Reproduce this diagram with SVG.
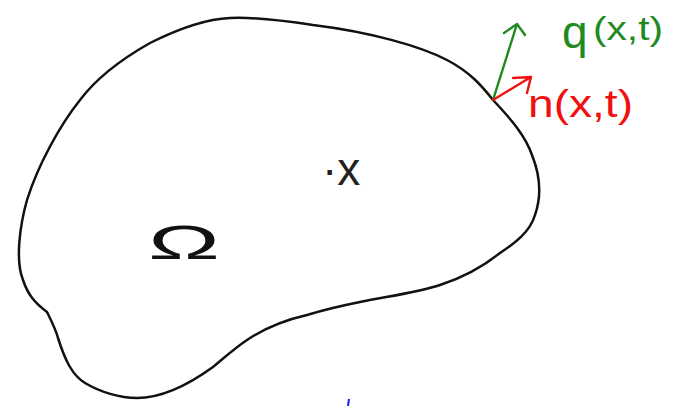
<svg xmlns="http://www.w3.org/2000/svg" width="682" height="406" viewBox="0 0 682 406">
<style>
.outline{fill:none;stroke:#111;stroke-width:2.5;stroke-linecap:round;stroke-linejoin:round}
.arr{fill:none;stroke-width:2.4;stroke-linecap:round;stroke-linejoin:round}
.g{stroke:#1f8a1f}
.r{stroke:#f01010}
text{font-family:"Liberation Sans",Arial,sans-serif}
</style>
<rect width="682" height="406" fill="#fff"/>
<g id="domain">
<path class="outline" d="M493,100 C482,86 470,72 447,60 C420,46 370,32 313,25 C280,20 250,17 230,18 C205,19 180,28 150,43 C120,60 95,80 80,100 C60,125 38,165 27,200 C20,225 15,260 23,280 C28,295 35,303 47,312 C52,322 56,330 58,338 C65,360 72,375 85,383 C100,392 120,398 137,398 C165,398 195,380 213,367 C225,357 235,348 247,340 C265,328 285,320 307,315 C330,308 345,305 360,302 C390,296 420,292 440,285 C465,277 485,265 500,253 C515,243 530,232 535,215 C542,195 540,175 532,155 C525,135 510,118 493,100 Z"/>
<text x="148" y="259" font-size="48" textLength="72" lengthAdjust="spacingAndGlyphs" fill="#111">Ω</text>
</g>
<g id="point-x">
<text x="322" y="185" font-size="46" fill="#222">·x</text>
</g>
<g id="connectors">
<path class="arr g" d="M493,100 L517,24 M504,33 L517,24 L525,35"/>
<path class="arr r" d="M493,100 L531,77 M513,78 L531,77 L527,93"/>
</g>
<g id="label-q">
<text x="562" y="48" font-size="46" fill="#1f8a1f">q</text>
<text x="593" y="40" font-size="34" textLength="70" lengthAdjust="spacingAndGlyphs" fill="#1f8a1f">(x,t)</text>
</g>
<g id="label-n">
<text x="528" y="117" font-size="38" textLength="105" lengthAdjust="spacingAndGlyphs" fill="#f01010">n(x,t)</text>
</g>
<g id="mark">
<line x1="349" y1="399" x2="348" y2="406" stroke="#1a1aff" stroke-width="2"/>
</g>
</svg>
